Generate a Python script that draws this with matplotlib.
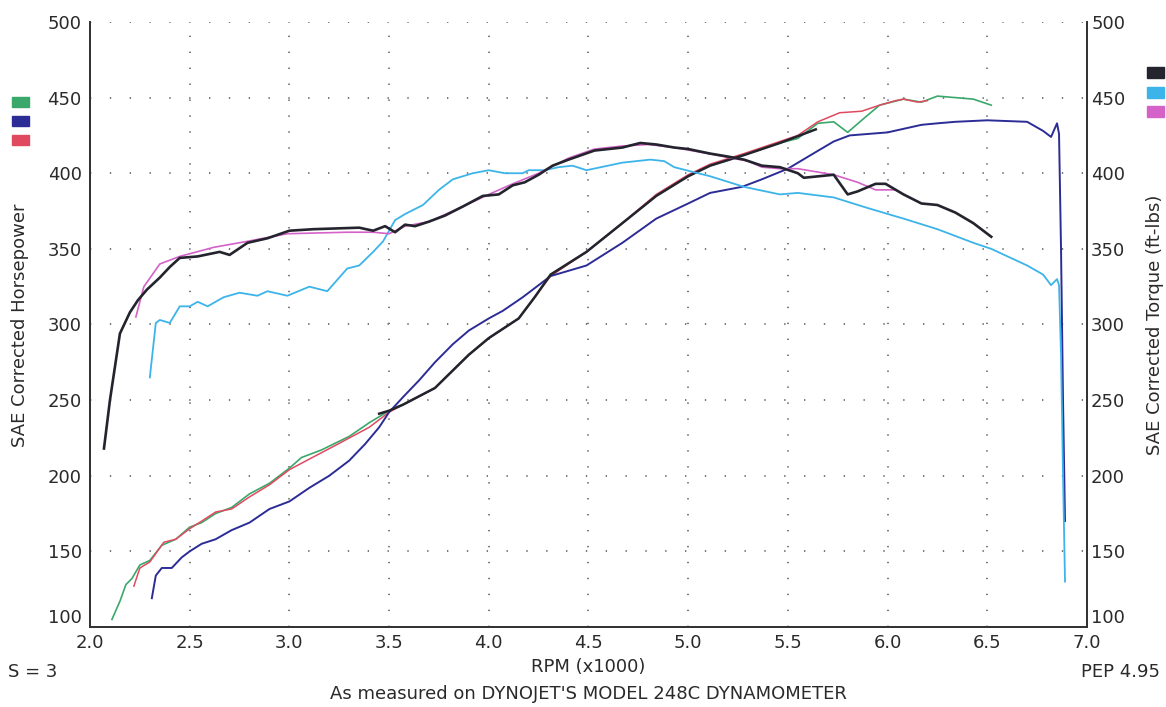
import matplotlib
matplotlib.use("Agg")
import matplotlib.pyplot as plt
from matplotlib.patches import Rectangle
import numpy as np

# RPM values are in thousands
# --- horsepower runs ---
hp_green_rpm = [2.11, 2.15, 2.18, 2.21, 2.25, 2.30, 2.36, 2.43, 2.50, 2.56, 2.63, 2.71, 2.80, 2.90,
                3.00, 3.06, 3.16, 3.30, 3.40, 3.50, 3.57, 3.73, 3.90, 4.00, 4.15, 4.23, 4.31, 4.49,
                4.67, 4.84, 5.00, 5.11, 5.28, 5.46, 5.55, 5.65, 5.73, 5.80, 5.87, 5.96, 6.08, 6.17,
                6.25, 6.34, 6.43, 6.52]
hp_green = [105, 117, 128, 132, 141, 144, 154, 158, 166, 169, 175, 179, 188, 195,
            205, 212, 217, 226, 235, 243, 247, 258, 280, 291, 304, 318, 333, 348,
            367, 385, 398, 405, 412, 420, 423, 433, 434, 427, 435, 445, 449, 447,
            451, 450, 449, 445]

hp_red_rpm = [2.22, 2.25, 2.30, 2.37, 2.43, 2.50, 2.56, 2.63, 2.71, 2.80, 2.90, 3.00, 3.10, 3.23,
              3.40, 3.50, 3.57, 3.73, 3.90, 4.00, 4.15, 4.31, 4.49, 4.67, 4.84, 5.00, 5.11, 5.28,
              5.46, 5.55, 5.65, 5.76, 5.87, 5.96, 6.04, 6.08, 6.15, 6.20]
hp_red = [127, 139, 143, 156, 158, 165, 170, 176, 178, 186, 194, 204, 211, 220,
          232, 242, 247, 258, 280, 291, 304, 332, 348, 367, 386, 399, 406, 413,
          421, 425, 434, 440, 441, 445, 448, 449, 447, 448]

hp_navy_rpm = [2.31, 2.33, 2.36, 2.41, 2.46, 2.50, 2.56, 2.63, 2.71, 2.80, 2.90, 3.00, 3.10, 3.20,
               3.30, 3.38, 3.45, 3.50, 3.57, 3.65, 3.73, 3.82, 3.90, 4.00, 4.07, 4.17, 4.31, 4.49,
               4.67, 4.84, 5.00, 5.11, 5.27, 5.37, 5.50, 5.64, 5.73, 5.81, 6.00, 6.17, 6.25, 6.34,
               6.50, 6.70, 6.78, 6.82, 6.85, 6.86, 6.87, 6.88, 6.89]
hp_navy = [119, 134, 139, 139, 146, 150, 155, 158, 164, 169, 178, 183, 192, 200,
           210, 221, 232, 242, 252, 263, 275, 287, 296, 304, 309, 318, 332, 339,
           354, 370, 380, 387, 391, 396, 403, 414, 421, 425, 427, 432, 433, 434,
           435, 434, 428, 424, 433, 426, 350, 250, 170]

# dark trace lying over the green/red hp curves in the middle
hp_dark_rpm = [3.45, 3.50, 3.57, 3.73, 3.90, 4.00, 4.15, 4.23, 4.31, 4.49, 4.67, 4.84, 5.00,
               5.11, 5.28, 5.46, 5.58, 5.64]
hp_dark = [241, 243, 247, 258, 280, 291, 304, 318, 333, 348, 367, 385, 398,
           405, 412, 420, 426, 429]

# --- torque runs ---
tq_black_rpm = [2.07, 2.10, 2.15, 2.20, 2.24, 2.285, 2.35, 2.40, 2.45, 2.54, 2.65, 2.70, 2.79, 2.89,
                3.00, 3.12, 3.35, 3.42, 3.48, 3.53, 3.58, 3.63, 3.70, 3.78, 3.87, 3.97, 4.05, 4.12,
                4.18, 4.25, 4.32, 4.40, 4.53, 4.67, 4.76, 4.84, 4.93, 5.00, 5.11, 5.20, 5.28, 5.37,
                5.46, 5.55, 5.58, 5.73, 5.80, 5.85, 5.94, 5.99, 6.08, 6.17, 6.25, 6.34, 6.43, 6.52]
tq_black = [218, 250, 294, 308, 316, 323, 331, 338, 344, 345, 348, 346, 354, 357,
            362, 363, 364, 362, 365, 361, 366, 365, 368, 372, 378, 385, 386, 392,
            394, 399, 405, 409, 415, 417, 420, 419, 417, 416, 413, 411, 409, 405,
            404, 400, 397, 399, 386, 388, 393, 393, 386, 380, 379, 374, 367, 358]

tq_cyan_rpm = [2.30, 2.33, 2.35, 2.40, 2.45, 2.50, 2.54, 2.59, 2.67, 2.75, 2.84, 2.89, 2.99, 3.10,
               3.19, 3.29, 3.35, 3.42, 3.47, 3.53, 3.58, 3.67, 3.75, 3.82, 3.92, 4.00, 4.08, 4.17,
               4.20, 4.28, 4.35, 4.42, 4.49, 4.67, 4.81, 4.88, 4.93, 5.11, 5.28, 5.46, 5.55, 5.73,
               5.90, 6.08, 6.25, 6.43, 6.52, 6.70, 6.78, 6.82, 6.85, 6.86, 6.87, 6.88, 6.89]
tq_cyan = [265, 301, 303, 301, 312, 312, 315, 312, 318, 321, 319, 322, 319, 325,
           322, 337, 339, 348, 355, 369, 373, 379, 389, 396, 400, 402, 400, 400,
           402, 402, 404, 405, 402, 407, 409, 408, 404, 398, 391, 386, 387, 384,
           377, 370, 363, 354, 350, 339, 333, 326, 330, 326, 280, 200, 130]

tq_magenta_rpm = [2.23, 2.27, 2.35, 2.45, 2.62, 2.79, 2.99, 3.29, 3.42, 3.50, 3.58, 3.70, 3.87, 4.00,
                  4.12, 4.25, 4.40, 4.53, 4.67, 4.80, 4.93, 5.10, 5.22, 5.30, 5.37, 5.46, 5.55, 5.73,
                  5.85, 5.94, 6.04]
tq_magenta = [305, 325, 340, 345, 351, 355, 360, 361, 361, 360, 365, 368, 378, 386,
              393, 400, 410, 416, 418, 419, 417, 413, 410, 408, 404, 403, 403, 399,
              394, 389, 389]

x_ticks = [2.0, 2.5, 3.0, 3.5, 4.0, 4.5, 5.0, 5.5, 6.0, 6.5, 7.0]
y_ticks = [100, 150, 200, 250, 300, 350, 400, 450, 500]

GREEN = '#3aa86a'
NAVY = '#2c2c96'
RED = '#e04a60'
DARK = '#24242e'
CYAN = '#3cb4ea'
MAGENTA = '#d462c8'
TXT = '#2a2a2a'

plt.rcParams['font.family'] = ['DejaVu Sans']

fig = plt.figure(figsize=(11.66, 7.07), dpi=100)
ax = fig.add_axes([0.0772, 0.1132, 0.855, 0.8557])
ax2 = ax.twinx()

ax.set_xlim(2.0, 7.0)
ax.set_ylim(100, 500)
ax2.set_ylim(100, 500)

ax.set_xticks(x_ticks)
ax.set_xticklabels(['%.1f' % t for t in x_ticks])
ax.set_yticks(y_ticks)
ax2.set_yticks(y_ticks)
ax.set_yticklabels([str(t) for t in y_ticks])
ax2.set_yticklabels([str(t) for t in y_ticks])

ax.tick_params(axis='x', length=0, pad=5, labelsize=13, labelcolor=TXT)
ax.tick_params(axis='y', length=0, pad=6, labelsize=13, labelcolor=TXT)
ax2.tick_params(axis='y', length=0, pad=3, labelsize=13, labelcolor=TXT)

# the lowest y labels sit just above the baseline, as on the printout
for lab in ax.get_yticklabels() + ax2.get_yticklabels():
    if lab.get_text() == '100':
        lab.set_verticalalignment('bottom')

for a in (ax, ax2):
    a.spines['top'].set_visible(False)
    for s in ('left', 'right', 'bottom'):
        a.spines[s].set_color('#333333')
        a.spines[s].set_linewidth(1.3)

# dotted grid
ax.xaxis.grid(True, color='#777777', linewidth=1.4, linestyle=(0, (0.7, 7.5)))
ax.yaxis.grid(True, color='#777777', linewidth=1.4, linestyle=(0, (0.7, 9.5)))
ax.set_axisbelow(True)

# horsepower
ax.plot(hp_green_rpm, hp_green, color=GREEN, lw=1.2)
ax.plot(hp_red_rpm, hp_red, color=RED, lw=1.1)
ax.plot(hp_navy_rpm, hp_navy, color=NAVY, lw=1.4)
ax.plot(hp_dark_rpm, hp_dark, color=DARK, lw=1.8)

# torque
ax2.plot(tq_cyan_rpm, tq_cyan, color=CYAN, lw=1.3)
ax2.plot(tq_magenta_rpm, tq_magenta, color=MAGENTA, lw=1.2)
ax2.plot(tq_black_rpm, tq_black, color=DARK, lw=1.9)

# colour keys at both sides
W, H = 1166.0, 707.0
left_keys = [(97, GREEN), (116, NAVY), (135, RED)]
right_keys = [(67, DARK), (87, CYAN), (106, MAGENTA)]
for top, c in left_keys:
    fig.patches.append(Rectangle((12 / W, 1 - (top + 10) / H), 17 / W, 10 / H,
                                 transform=fig.transFigure, color=c, figure=fig))
for top, c in right_keys:
    fig.patches.append(Rectangle((1147 / W, 1 - (top + 11) / H), 17 / W, 11 / H,
                                 transform=fig.transFigure, color=c, figure=fig))

fig.text(20 / W, 1 - 325 / H, 'SAE Corrected Horsepower', rotation=90,
         ha='center', va='center', fontsize=13, color=TXT)
fig.text(1155 / W, 1 - 325 / H, 'SAE Corrected Torque (ft-lbs)', rotation=90,
         ha='center', va='center', fontsize=13, color=TXT)

fig.text(8 / W, 1 - 672 / H, 'S = 3', ha='left', va='center', fontsize=13, color=TXT)
fig.text(588 / W, 1 - 667 / H, 'RPM (x1000)', ha='center', va='center', fontsize=13, color=TXT)
fig.text(1160 / W, 1 - 672 / H, 'PEP 4.95', ha='right', va='center', fontsize=13, color=TXT)
fig.text(588 / W, 1 - 694 / H, "As measured on DYNOJET'S MODEL 248C DYNAMOMETER",
         ha='center', va='center', fontsize=13, color=TXT)

fig.savefig('out.png', dpi=100, facecolor='white')
